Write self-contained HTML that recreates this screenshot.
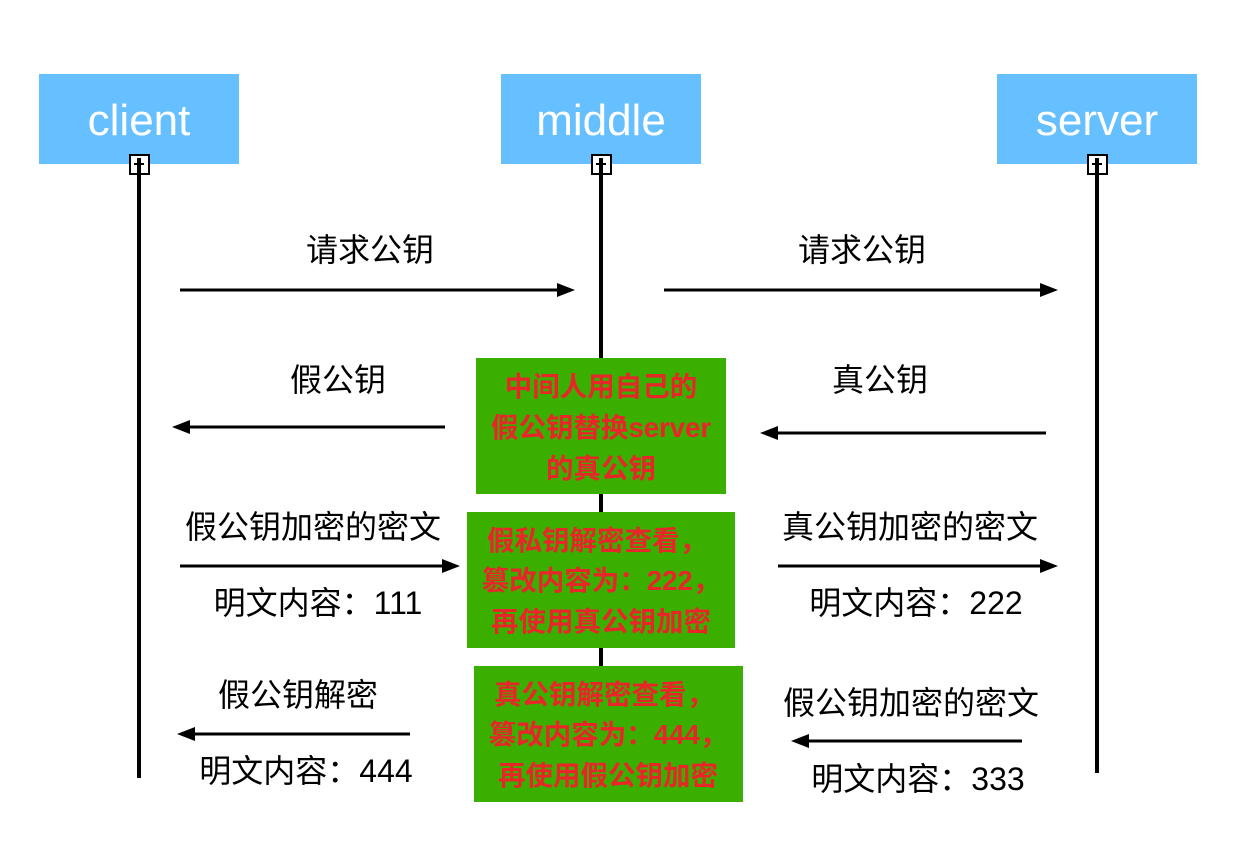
<!DOCTYPE html>
<html><head><meta charset="utf-8"><style>
body{margin:0;background:#fff}
svg{display:block}
.t{font-family:"Liberation Sans","Noto Sans CJK SC",sans-serif;font-size:32px;fill:#000;text-anchor:middle}
.r{font-family:"Liberation Sans","Noto Sans CJK SC",sans-serif;font-size:27.5px;font-weight:bold;fill:#e8262a;text-anchor:middle}
.h{font-family:"Liberation Sans","Noto Sans CJK SC",sans-serif;font-size:44px;fill:#fff;text-anchor:middle}
</style></head><body>
<svg width="1248" height="848" viewBox="0 0 1248 848" xmlns="http://www.w3.org/2000/svg">
<rect x="39" y="74" width="200" height="90" fill="#66bfff"/>
<rect x="501" y="74" width="200" height="90" fill="#66bfff"/>
<rect x="997" y="74" width="200" height="90" fill="#66bfff"/>
<text class="h" x="139" y="135">client</text>
<text class="h" x="601" y="135">middle</text>
<text class="h" x="1097" y="135">server</text>
<g fill="#fff" stroke="#000" stroke-width="2">
<rect x="130" y="155" width="19" height="19"/>
<rect x="592" y="155" width="19" height="19"/>
<rect x="1088" y="155" width="19" height="19"/>
</g>
<g stroke="#000" stroke-width="4">
<line x1="139" y1="158" x2="139" y2="778"/>
<line x1="601" y1="158" x2="601" y2="800"/>
<line x1="1097" y1="158" x2="1097" y2="773"/>
</g>
<g stroke="#000" stroke-width="2">
<line x1="134" y1="164" x2="144" y2="164"/><line x1="596" y1="164" x2="606" y2="164"/><line x1="1092" y1="164" x2="1102" y2="164"/>
</g>
<g stroke="#000" stroke-width="3">
<line x1="180" y1="290" x2="560" y2="290"/>
<line x1="664" y1="290" x2="1043" y2="290"/>
<line x1="445" y1="427" x2="188" y2="427"/>
<line x1="1046" y1="433" x2="776" y2="433"/>
<line x1="180" y1="566" x2="445" y2="566"/>
<line x1="778" y1="566" x2="1043" y2="566"/>
<line x1="410" y1="734" x2="193" y2="734"/>
<line x1="1022" y1="741" x2="807" y2="741"/>
</g>
<g fill="#000">
<polygon points="575,290 557,283 557,297"/>
<polygon points="1058,290 1040,283 1040,297"/>
<polygon points="172,427 190,420 190,434"/>
<polygon points="760,433 778,426 778,440"/>
<polygon points="460,566 442,559 442,573"/>
<polygon points="1058,566 1040,559 1040,573"/>
<polygon points="177,734 195,727 195,741"/>
<polygon points="791,741 809,734 809,748"/>
</g>
<text class="t" x="370" y="261">请求公钥</text>
<text class="t" x="862" y="261">请求公钥</text>
<text class="t" x="338" y="391">假公钥</text>
<text class="t" x="880" y="391">真公钥</text>
<text class="t" x="313" y="538">假公钥加密的密文</text>
<text class="t" x="318" y="614">明文内容：111</text>
<text class="t" x="910" y="538">真公钥加密的密文</text>
<text class="t" x="916" y="614">明文内容：222</text>
<text class="t" x="298" y="706">假公钥解密</text>
<text class="t" x="306" y="782">明文内容：444</text>
<text class="t" x="911" y="714">假公钥加密的密文</text>
<text class="t" x="918" y="790">明文内容：333</text>
<rect x="476" y="358" width="250" height="136" fill="#3aaf00"/>
<rect x="467" y="512" width="268" height="136" fill="#3aaf00"/>
<rect x="474" y="666" width="269" height="136" fill="#3aaf00"/>
<text class="r" x="601" y="396">中间人用自己的</text>
<text class="r" x="601" y="437">假公钥替换server</text>
<text class="r" x="601" y="478">的真公钥</text>
<text class="r" x="597" y="550">假私钥解密查看，</text>
<text class="r" x="601" y="590">篡改内容为：222，</text>
<text class="r" x="601" y="631">再使用真公钥加密</text>
<text class="r" x="604" y="704">真公钥解密查看，</text>
<text class="r" x="608" y="744">篡改内容为：444，</text>
<text class="r" x="608" y="785">再使用假公钥加密</text>
</svg>
</body></html>
